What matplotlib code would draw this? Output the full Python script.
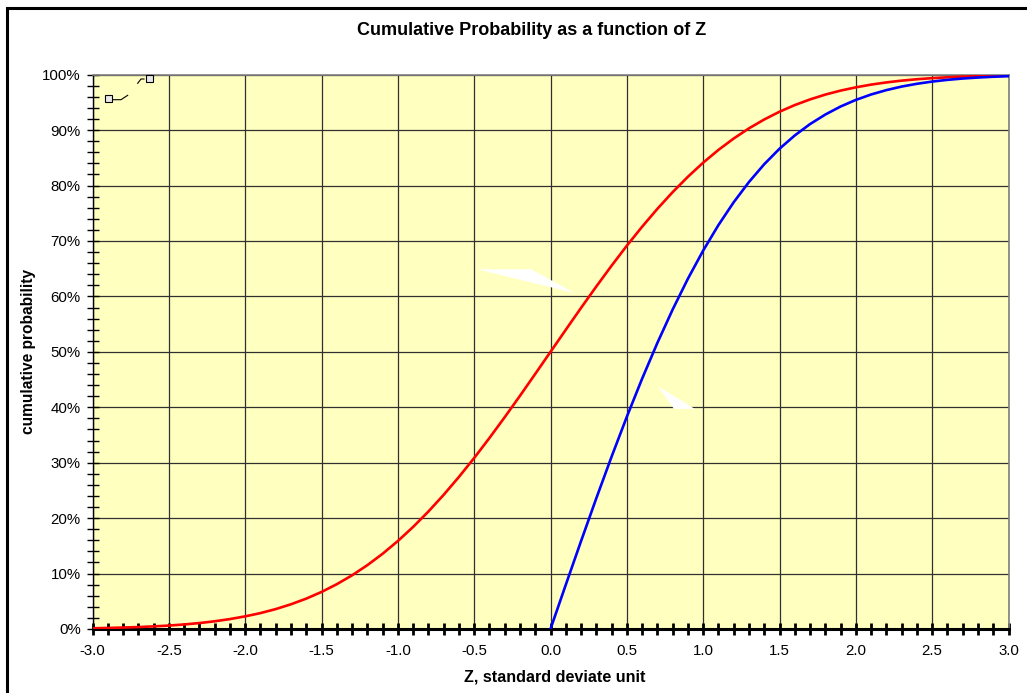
import matplotlib.pyplot as plt
import numpy as np
from matplotlib.patches import Rectangle, Polygon
from matplotlib.ticker import MultipleLocator, FuncFormatter

plt.rcParams['font.family'] = ['Liberation Sans', 'DejaVu Sans']

# values
z_all = np.round(np.arange(-3.0, 3.01, 0.1), 1)
cum_prob = [0.0013, 0.0019, 0.0026, 0.0035, 0.0047, 0.0062, 0.0082, 0.0107, 0.0139, 0.0179,
            0.0228, 0.0287, 0.0359, 0.0446, 0.0548, 0.0668, 0.0808, 0.0968, 0.1151, 0.1357,
            0.1587, 0.1841, 0.2119, 0.2420, 0.2743, 0.3085, 0.3446, 0.3821, 0.4207, 0.4602,
            0.5000, 0.5398, 0.5793, 0.6179, 0.6554, 0.6915, 0.7257, 0.7580, 0.7881, 0.8159,
            0.8413, 0.8643, 0.8849, 0.9032, 0.9192, 0.9332, 0.9452, 0.9554, 0.9641, 0.9713,
            0.9772, 0.9821, 0.9861, 0.9893, 0.9918, 0.9938, 0.9953, 0.9965, 0.9974, 0.9981,
            0.9987]

z_pos = np.round(np.arange(0.0, 3.01, 0.1), 1)
cum_prob_abs = [0.0, 0.0797, 0.1585, 0.2358, 0.3108, 0.3829, 0.4515, 0.5161, 0.5763, 0.6319,
                0.6827, 0.7287, 0.7699, 0.8064, 0.8385, 0.8664, 0.8904, 0.9109, 0.9281, 0.9426,
                0.9545, 0.9643, 0.9722, 0.9786, 0.9836, 0.9876, 0.9907, 0.9931, 0.9949, 0.9963,
                0.9973]

W, H = 1027, 693
fig = plt.figure(figsize=(W / 100, H / 100), dpi=100)
fig.patch.set_facecolor('white')

# outer chart frame (right/bottom edges fall off the image)
fig.patches.append(Rectangle((7 / W, -0.1), 1.2, 1 - 8 / H + 0.1, transform=fig.transFigure,
                             fill=False, edgecolor='black', lw=2.2))

ax = fig.add_axes([92.5 / W, 1 - 629 / H, (1008.5 - 92.5) / W, (629 - 74.7) / H])
ax.set_facecolor('#FFFFC0')

ax.plot(z_all, cum_prob, color='#FF0000', lw=1.9, zorder=3)
ax.plot(z_pos, cum_prob_abs, color='#0000FF', lw=1.9, zorder=3)

ax.set_xlim(-3, 3)
ax.set_ylim(0, 1)

ax.xaxis.set_major_locator(MultipleLocator(0.5))
ax.xaxis.set_minor_locator(MultipleLocator(0.1))
ax.yaxis.set_major_locator(MultipleLocator(0.1))
ax.yaxis.set_minor_locator(MultipleLocator(0.02))
ax.xaxis.set_major_formatter(FuncFormatter(lambda v, p: f'{v:.1f}'))
ax.yaxis.set_major_formatter(FuncFormatter(lambda v, p: f'{v * 100:.0f}%'))

ax.grid(True, which='major', color='#303030', lw=0.9)
ax.set_axisbelow(True)

for side in ['top', 'right']:
    ax.spines[side].set_color('#808080')
    ax.spines[side].set_linewidth(1.2)
ax.spines['left'].set_linewidth(1.0)
ax.spines['bottom'].set_linewidth(2.2)

ax.tick_params(axis='both', which='both', direction='inout', colors='black', labelsize=10.8)
ax.tick_params(axis='x', which='both', length=8, width=2.0, pad=7)
ax.tick_params(axis='y', which='both', length=8, width=1.0, pad=4.5)

fig.text(554.5 / W, 1 - 676.7 / H, 'Z, standard deviate unit', ha='center', va='center',
         fontsize=11.6, fontweight='bold')
fig.text(29 / W, 1 - 351 / H, 'cumulative probability', ha='center', va='center',
         rotation=90, fontsize=11.2, fontweight='bold')
fig.text(531.5 / W, 1 - 30.6 / H, 'Cumulative Probability as a function of Z', ha='center',
         va='center', fontsize=13, fontweight='bold')

# leftover white callout pointers
ax.add_patch(Polygon([(-0.48, 0.649), (-0.128, 0.649), (0.16, 0.606)], closed=True,
                     transform=ax.transData, facecolor='white', edgecolor='none', zorder=2))
ax.add_patch(Polygon([(0.703, 0.438), (0.809, 0.397), (0.946, 0.397)], closed=True,
                     transform=ax.transData, facecolor='white', edgecolor='none', zorder=2))

# collapsed data labels in the upper left corner
to_fig = lambda x, y: (x / W, 1 - y / H)
for sq, leader in [((108, 98.3), [(112, 99.7), (121, 99.7), (127.7, 95.3)]),
                   ((149, 78.3), [(144, 79), (141, 79), (137.7, 83.3)])]:
    fig.patches.append(Rectangle(to_fig(sq[0] - 3.5, sq[1] + 3.5), 7 / W, 7 / H,
                                 transform=fig.transFigure, facecolor='#E8E8E8',
                                 edgecolor='black', lw=0.8, zorder=5))
    xs, ys = zip(*[to_fig(*p) for p in leader])
    fig.lines.append(plt.Line2D(xs, ys, transform=fig.transFigure, color='black', lw=0.8))

fig.savefig('out.png', dpi=100)
